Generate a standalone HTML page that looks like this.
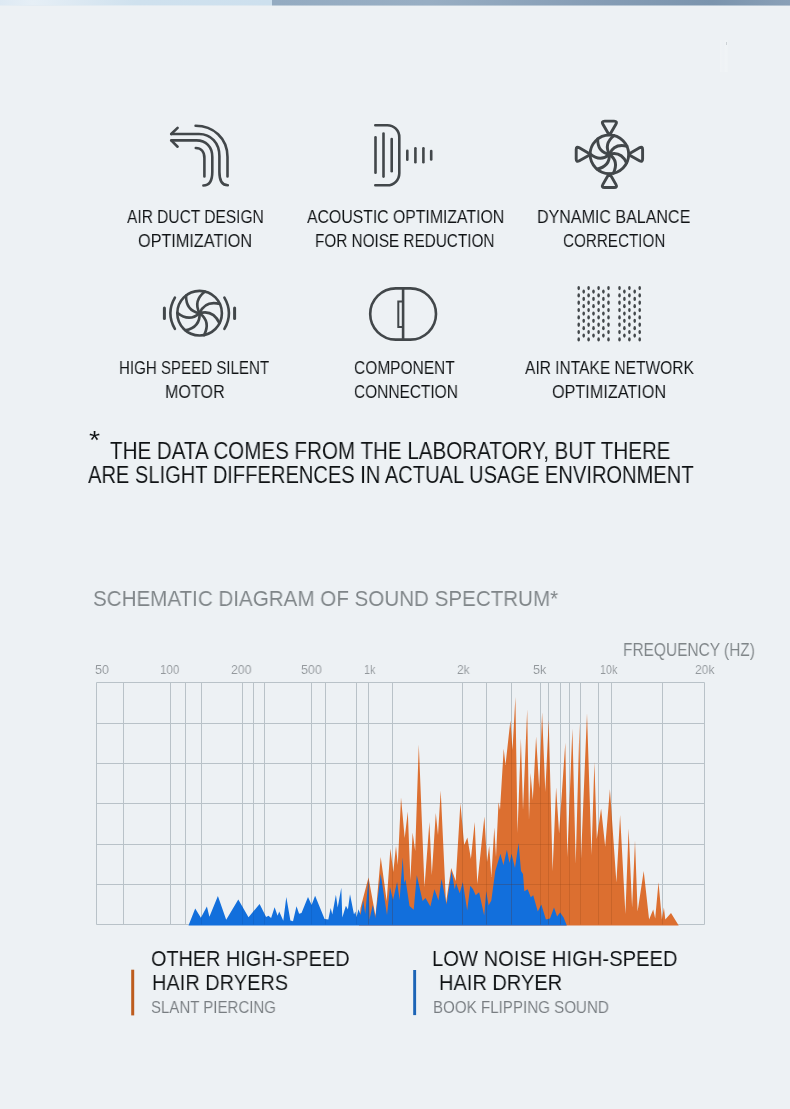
<!DOCTYPE html><html><head><meta charset="utf-8"><title>Sound spectrum</title><style>
html,body{margin:0;padding:0}
body{width:790px;height:1109px;position:relative;overflow:hidden;background:#edf1f4;font-family:"Liberation Sans",sans-serif}
.t{position:absolute;white-space:nowrap;transform-origin:0 0;margin:0;padding:0;will-change:transform;-webkit-text-stroke:0.05px #edf1f4}
svg{position:absolute;left:0;top:0}
</style></head><body>
<div style="position:absolute;left:0;top:0;width:272px;height:5px;background:linear-gradient(90deg,#dde9f3 0%,#e6eff6 12%,#dbe8f2 30%,#cfe1ee 50%,#cde0ee 100%)"></div>
<div style="position:absolute;left:0;top:5px;width:272px;height:1px;background:linear-gradient(90deg,#e5edf3 0%,#dde8f0 100%)"></div>
<div style="position:absolute;left:272px;top:0;width:518px;height:5px;background:linear-gradient(90deg,#94abc1 0%,#98aec3 30%,#869db5 62%,#7b94ad 85%,#8aa0b7 100%)"></div>
<div style="position:absolute;left:272px;top:5px;width:518px;height:1px;background:linear-gradient(90deg,#bfcdd9 0%,#b4c3d1 100%)"></div>
<div style="position:absolute;left:720px;top:40px;width:8px;height:32px;background:linear-gradient(90deg,rgba(255,255,255,.2),rgba(255,255,255,.05) 40%,rgba(255,255,255,.22) 75%,rgba(255,255,255,.1))"></div>
<div style="position:absolute;left:726px;top:42px;width:1px;height:3px;background:rgba(150,158,165,.4)"></div>

<svg width="790" height="420" viewBox="0 0 790 420" fill="none" stroke="#42474a" stroke-width="2.6" stroke-linecap="round" stroke-linejoin="round">
<!-- air duct -->
<g>
<path d="M195.6 125.8 C213 125.8 227.5 138 227.5 157 L227.5 176.5"/>
<path d="M171.6 134 L199 134 C211 134 219.4 143 219.4 156 L219.4 172 C219.4 181 222.5 185.3 227.8 185.3"/>
<path d="M171.6 140.4 L196.5 140.4 C206 140.4 212.3 147 212.3 157 L212.3 172 C212.3 181 209 185.5 203.4 185.5"/>
<path d="M195.8 148 C201 148 204.4 151.5 204.4 158 L204.4 176.5"/>
<path d="M177.6 127.9 L171.2 134"/>
<path d="M177.6 146.7 L171.2 140.4"/>
</g>
<!-- acoustic -->
<g>
<path d="M375.3 125.2 L387.3 125.2 C394 125.2 399.3 130.5 399.3 137.2 L399.3 173.3 C399.3 180 394 185.3 387.3 185.3 L375.3 185.3"/>
<g stroke-width="2.6">
<path d="M375.5 137.4 V172.8"/><path d="M383.5 133.6 V176.6"/><path d="M391.7 139.1 V171.2"/>
<path d="M407.3 150.8 V159.8"/><path d="M415.4 148.3 V162.3"/><path d="M423.4 148.3 V162.3"/><path d="M431.2 151 V159.4"/>
</g>
</g>
<!-- dynamic balance -->
<g id="dyn" stroke-width="2.9">
<circle cx="609.4" cy="154.3" r="19.3"/>
<path d="M602.90 124.22 Q601.10 121.10 604.70 121.10 L614.10 121.10 Q617.70 121.10 615.90 124.22 L610.50 133.59 Q609.40 135.50 608.30 133.59 Z"/>
<path d="M639.48 147.80 Q642.60 146.00 642.60 149.60 L642.60 159.00 Q642.60 162.60 639.48 160.80 L630.11 155.40 Q628.20 154.30 630.11 153.20 Z"/>
<path d="M615.90 184.38 Q617.70 187.50 614.10 187.50 L604.70 187.50 Q601.10 187.50 602.90 184.38 L608.30 175.01 Q609.40 173.10 610.50 175.01 Z"/>
<path d="M579.32 160.80 Q576.20 162.60 576.20 159.00 L576.20 149.60 Q576.20 146.00 579.32 147.80 L588.69 153.20 Q590.60 154.30 588.69 155.40 Z"/>
<g transform="translate(609.4 154.3)">
<path d="M0 0 Q-5.79 -10.62 4.67 -18.73"/>
<path d="M0 0 Q4.69 -11.15 17.55 -8.03"/>
<path d="M0 0 Q11.64 -3.28 17.22 8.72"/>
<path d="M0 0 Q9.82 7.05 3.92 18.90"/>
<path d="M0 0 Q0.61 12.08 -12.33 14.85"/>
<path d="M0 0 Q-9.06 8.01 -19.30 -0.38"/>
<path d="M0 0 Q-11.91 -2.09 -11.73 -15.33"/>
</g>
</g>
<!-- motor -->
<g id="mot">
<circle cx="199.6" cy="313.2" r="22.3"/>
<path d="M174.9 297.6 Q165.8 313.2 174.9 328.9"/>
<path d="M224.4 297.6 Q233.5 313.2 224.4 328.9"/>
<path d="M164.4 307.9 V318.5" stroke-width="3"/>
<path d="M234.6 307.9 V318.5" stroke-width="3"/>
<g transform="translate(199.6 313.2)">
<path d="M0 0 Q-6.69 -12.27 5.39 -21.64"/>
<path d="M0 0 Q5.42 -12.88 20.28 -9.27"/>
<path d="M0 0 Q13.45 -3.79 19.89 10.07"/>
<path d="M0 0 Q11.35 8.15 4.53 21.84"/>
<path d="M0 0 Q0.71 13.95 -14.25 17.15"/>
<path d="M0 0 Q-10.47 9.25 -22.30 -0.44"/>
<path d="M0 0 Q-13.76 -2.42 -13.55 -17.71"/>
</g>
</g>
<!-- component -->
<g>
<rect x="370.2" y="288.4" width="65.8" height="51.2" rx="25.6" ry="25.6"/>
<path d="M403.1 288.4 V339.6" stroke-linecap="butt"/>
<path d="M402.6 301.4 H398.3 V326.9 H402.6" stroke-width="2" stroke-linejoin="miter" stroke-linecap="butt"/>
</g>
<!-- intake dots -->
<g stroke="none" fill="#42474a">
<ellipse cx="578.7" cy="288.10" rx="1.3" ry="2.15"/>
<ellipse cx="578.7" cy="295.43" rx="1.3" ry="2.15"/>
<ellipse cx="578.7" cy="302.76" rx="1.3" ry="2.15"/>
<ellipse cx="578.7" cy="310.09" rx="1.3" ry="2.15"/>
<ellipse cx="578.7" cy="317.42" rx="1.3" ry="2.15"/>
<ellipse cx="578.7" cy="324.75" rx="1.3" ry="2.15"/>
<ellipse cx="578.7" cy="332.08" rx="1.3" ry="2.15"/>
<ellipse cx="578.7" cy="339.41" rx="1.3" ry="2.15"/>
<ellipse cx="583.7" cy="291.55" rx="1.3" ry="2.15"/>
<ellipse cx="583.7" cy="298.88" rx="1.3" ry="2.15"/>
<ellipse cx="583.7" cy="306.21" rx="1.3" ry="2.15"/>
<ellipse cx="583.7" cy="313.54" rx="1.3" ry="2.15"/>
<ellipse cx="583.7" cy="320.87" rx="1.3" ry="2.15"/>
<ellipse cx="583.7" cy="328.20" rx="1.3" ry="2.15"/>
<ellipse cx="583.7" cy="335.53" rx="1.3" ry="2.15"/>
<ellipse cx="588.6" cy="288.10" rx="1.3" ry="2.15"/>
<ellipse cx="588.6" cy="295.43" rx="1.3" ry="2.15"/>
<ellipse cx="588.6" cy="302.76" rx="1.3" ry="2.15"/>
<ellipse cx="588.6" cy="310.09" rx="1.3" ry="2.15"/>
<ellipse cx="588.6" cy="317.42" rx="1.3" ry="2.15"/>
<ellipse cx="588.6" cy="324.75" rx="1.3" ry="2.15"/>
<ellipse cx="588.6" cy="332.08" rx="1.3" ry="2.15"/>
<ellipse cx="588.6" cy="339.41" rx="1.3" ry="2.15"/>
<ellipse cx="593.5" cy="291.55" rx="1.3" ry="2.15"/>
<ellipse cx="593.5" cy="298.88" rx="1.3" ry="2.15"/>
<ellipse cx="593.5" cy="306.21" rx="1.3" ry="2.15"/>
<ellipse cx="593.5" cy="313.54" rx="1.3" ry="2.15"/>
<ellipse cx="593.5" cy="320.87" rx="1.3" ry="2.15"/>
<ellipse cx="593.5" cy="328.20" rx="1.3" ry="2.15"/>
<ellipse cx="593.5" cy="335.53" rx="1.3" ry="2.15"/>
<ellipse cx="598.6" cy="288.10" rx="1.3" ry="2.15"/>
<ellipse cx="598.6" cy="295.43" rx="1.3" ry="2.15"/>
<ellipse cx="598.6" cy="302.76" rx="1.3" ry="2.15"/>
<ellipse cx="598.6" cy="310.09" rx="1.3" ry="2.15"/>
<ellipse cx="598.6" cy="317.42" rx="1.3" ry="2.15"/>
<ellipse cx="598.6" cy="324.75" rx="1.3" ry="2.15"/>
<ellipse cx="598.6" cy="332.08" rx="1.3" ry="2.15"/>
<ellipse cx="598.6" cy="339.41" rx="1.3" ry="2.15"/>
<ellipse cx="603.4" cy="291.55" rx="1.3" ry="2.15"/>
<ellipse cx="603.4" cy="298.88" rx="1.3" ry="2.15"/>
<ellipse cx="603.4" cy="306.21" rx="1.3" ry="2.15"/>
<ellipse cx="603.4" cy="313.54" rx="1.3" ry="2.15"/>
<ellipse cx="603.4" cy="320.87" rx="1.3" ry="2.15"/>
<ellipse cx="603.4" cy="328.20" rx="1.3" ry="2.15"/>
<ellipse cx="603.4" cy="335.53" rx="1.3" ry="2.15"/>
<ellipse cx="608.5" cy="288.10" rx="1.3" ry="2.15"/>
<ellipse cx="608.5" cy="295.43" rx="1.3" ry="2.15"/>
<ellipse cx="608.5" cy="302.76" rx="1.3" ry="2.15"/>
<ellipse cx="608.5" cy="310.09" rx="1.3" ry="2.15"/>
<ellipse cx="608.5" cy="317.42" rx="1.3" ry="2.15"/>
<ellipse cx="608.5" cy="324.75" rx="1.3" ry="2.15"/>
<ellipse cx="608.5" cy="332.08" rx="1.3" ry="2.15"/>
<ellipse cx="608.5" cy="339.41" rx="1.3" ry="2.15"/>
<ellipse cx="619.5" cy="288.10" rx="1.3" ry="2.15"/>
<ellipse cx="619.5" cy="295.43" rx="1.3" ry="2.15"/>
<ellipse cx="619.5" cy="302.76" rx="1.3" ry="2.15"/>
<ellipse cx="619.5" cy="310.09" rx="1.3" ry="2.15"/>
<ellipse cx="619.5" cy="317.42" rx="1.3" ry="2.15"/>
<ellipse cx="619.5" cy="324.75" rx="1.3" ry="2.15"/>
<ellipse cx="619.5" cy="332.08" rx="1.3" ry="2.15"/>
<ellipse cx="619.5" cy="339.41" rx="1.3" ry="2.15"/>
<ellipse cx="624.4" cy="291.55" rx="1.3" ry="2.15"/>
<ellipse cx="624.4" cy="298.88" rx="1.3" ry="2.15"/>
<ellipse cx="624.4" cy="306.21" rx="1.3" ry="2.15"/>
<ellipse cx="624.4" cy="313.54" rx="1.3" ry="2.15"/>
<ellipse cx="624.4" cy="320.87" rx="1.3" ry="2.15"/>
<ellipse cx="624.4" cy="328.20" rx="1.3" ry="2.15"/>
<ellipse cx="624.4" cy="335.53" rx="1.3" ry="2.15"/>
<ellipse cx="629.4" cy="288.10" rx="1.3" ry="2.15"/>
<ellipse cx="629.4" cy="295.43" rx="1.3" ry="2.15"/>
<ellipse cx="629.4" cy="302.76" rx="1.3" ry="2.15"/>
<ellipse cx="629.4" cy="310.09" rx="1.3" ry="2.15"/>
<ellipse cx="629.4" cy="317.42" rx="1.3" ry="2.15"/>
<ellipse cx="629.4" cy="324.75" rx="1.3" ry="2.15"/>
<ellipse cx="629.4" cy="332.08" rx="1.3" ry="2.15"/>
<ellipse cx="629.4" cy="339.41" rx="1.3" ry="2.15"/>
<ellipse cx="634.7" cy="291.55" rx="1.3" ry="2.15"/>
<ellipse cx="634.7" cy="298.88" rx="1.3" ry="2.15"/>
<ellipse cx="634.7" cy="306.21" rx="1.3" ry="2.15"/>
<ellipse cx="634.7" cy="313.54" rx="1.3" ry="2.15"/>
<ellipse cx="634.7" cy="320.87" rx="1.3" ry="2.15"/>
<ellipse cx="634.7" cy="328.20" rx="1.3" ry="2.15"/>
<ellipse cx="634.7" cy="335.53" rx="1.3" ry="2.15"/>
<ellipse cx="639.7" cy="288.10" rx="1.3" ry="2.15"/>
<ellipse cx="639.7" cy="295.43" rx="1.3" ry="2.15"/>
<ellipse cx="639.7" cy="302.76" rx="1.3" ry="2.15"/>
<ellipse cx="639.7" cy="310.09" rx="1.3" ry="2.15"/>
<ellipse cx="639.7" cy="317.42" rx="1.3" ry="2.15"/>
<ellipse cx="639.7" cy="324.75" rx="1.3" ry="2.15"/>
<ellipse cx="639.7" cy="332.08" rx="1.3" ry="2.15"/>
<ellipse cx="639.7" cy="339.41" rx="1.3" ry="2.15"/>
</g>
</svg>

<svg width="790" height="1109" viewBox="0 0 790 1109">
<g stroke="#b9c2c8" stroke-width="1" fill="none" shape-rendering="auto">
<path d="M96.5 682.5 V924.5"/>
<path d="M123.5 682.5 V924.5"/>
<path d="M170.5 682.5 V924.5"/>
<path d="M185.5 682.5 V924.5"/>
<path d="M201.5 682.5 V924.5"/>
<path d="M242.5 682.5 V924.5"/>
<path d="M253.5 682.5 V924.5"/>
<path d="M264.5 682.5 V924.5"/>
<path d="M311.5 682.5 V924.5"/>
<path d="M325.5 682.5 V924.5"/>
<path d="M356.5 682.5 V924.5"/>
<path d="M368.5 682.5 V924.5"/>
<path d="M392.5 682.5 V924.5"/>
<path d="M462.5 682.5 V924.5"/>
<path d="M486.5 682.5 V924.5"/>
<path d="M511.5 682.5 V924.5"/>
<path d="M540.5 682.5 V924.5"/>
<path d="M548.5 682.5 V924.5"/>
<path d="M560.5 682.5 V924.5"/>
<path d="M569.5 682.5 V924.5"/>
<path d="M580.5 682.5 V924.5"/>
<path d="M598.5 682.5 V924.5"/>
<path d="M611.5 682.5 V924.5"/>
<path d="M662.5 682.5 V924.5"/>
<path d="M704.5 682.5 V924.5"/>
<path d="M96.5 682.5 H704.5"/>
<path d="M96.5 723.5 H704.5"/>
<path d="M96.5 763.5 H704.5"/>
<path d="M96.5 803.5 H704.5"/>
<path d="M96.5 844.5 H704.5"/>
<path d="M96.5 884.5 H704.5"/>
<path d="M96.5 924.5 H704.5"/>
</g>
<polygon fill="#dc6f30" points="359,925.6 360.5,908 368.5,877.5 375.5,916 380.7,857 386.7,901 390.4,848.5 393.3,872 396,846 397.8,865 401,797.5 404.7,838 407.8,811.5 410.4,880 412.6,832.5 415.2,851 418.8,744.5 424.5,887 429.4,822 431.8,875 435.8,813 438,835 440.7,790.5 446,903 451.2,868 455.7,881 460.4,803.3 464.2,845 467.4,837.5 470.9,859 474.7,822 477.3,884 484.4,816.5 487,862 489.2,845.7 491.3,877 494.3,827.5 496,857 498.5,802.3 500,810 503.7,748.7 505.5,765 510.4,720.4 512.5,750 515.4,697 517.5,833 520.9,738.6 523,810 527.2,709.2 529,820 530.6,773 532.8,800 536.1,736.6 539.2,788 542.1,712.3 545.3,792 548.7,720.4 552.6,871 556.1,787.2 559.1,833.5 565.3,742.7 567.3,857 572.4,728.5 575.7,864 579.5,723.4 581,859 587,713.3 591.5,855 594.4,762 596.8,839 601.1,808.5 605.2,846.7 609.9,789.2 616.4,882.5 620.1,815 625.4,914 628.6,828.5 632.1,907.5 635,840.6 637.6,911.5 643.7,871 649.1,919.6 653.2,909.5 655.2,918.6 658.5,882.2 661.9,919.6 663.9,907.5 665.3,919.6 671,913 678.7,925.6"/>
<polygon fill="#126fdc" points="188.5,925.6 195.2,908.6 200.9,917.7 206.9,906.6 209.4,916.7 217.9,896.1 226.2,919.7 238.3,899.5 248.5,917.3 259.6,904 266.1,917.1 268.5,915.7 271.1,918.1 274.6,907.2 277.6,915.7 279.2,911.6 283.3,920.8 286.3,896.9 290.4,920.4 293,921.2 296.5,906.2 299.1,913.7 301.5,913.1 308,897.1 311.6,905 315.1,895.8 324.6,918.9 328.3,919.4 330.7,908 332.3,914.4 335.9,894.7 337.7,907.5 341.3,887.8 342.3,917.6 345.9,905.8 347.9,909.5 350,894.3 354,914.6 355.4,911.5 356.5,917.2 358.5,909.3 360.6,915 363.2,900 365.2,914 368.5,879 369.5,919 372.8,905 375.3,918 380.7,874 387,915 390,887 393,900 397.1,882 399.6,900 402.7,857.5 404.2,882.7 405.5,879.6 409.5,906 413.7,909.7 416.8,875.3 422.6,901 425.5,898 430.4,906.5 434.4,889.2 438.5,900.4 441.5,879.1 446.6,904.4 451.6,871 454.7,889.2 456.1,883.2 459.7,893.3 462.8,882.2 467.2,910.5 470.3,885.7 473,889.2 475.7,895.3 479.1,892.3 484.2,915.6 486.2,891.3 488.6,905.4 491.3,900.4 495.3,871 500.4,853.8 503.4,864.9 506.9,849.7 509.5,862.9 511.5,853.8 515,868 518.6,843.1 521,871 523,874 524.3,891.3 527.7,889.2 530.8,897.3 533.2,895.3 537.8,911.5 541.3,904.4 545.9,919.6 550,918.6 554,907.5 557.1,916.6 560.1,912.5 563.6,917.6 566.8,925.6"/>
<clipPath id="cpo"><polygon points="359,925.6 360.5,908 368.5,877.5 375.5,916 380.7,857 386.7,901 390.4,848.5 393.3,872 396,846 397.8,865 401,797.5 404.7,838 407.8,811.5 410.4,880 412.6,832.5 415.2,851 418.8,744.5 424.5,887 429.4,822 431.8,875 435.8,813 438,835 440.7,790.5 446,903 451.2,868 455.7,881 460.4,803.3 464.2,845 467.4,837.5 470.9,859 474.7,822 477.3,884 484.4,816.5 487,862 489.2,845.7 491.3,877 494.3,827.5 496,857 498.5,802.3 500,810 503.7,748.7 505.5,765 510.4,720.4 512.5,750 515.4,697 517.5,833 520.9,738.6 523,810 527.2,709.2 529,820 530.6,773 532.8,800 536.1,736.6 539.2,788 542.1,712.3 545.3,792 548.7,720.4 552.6,871 556.1,787.2 559.1,833.5 565.3,742.7 567.3,857 572.4,728.5 575.7,864 579.5,723.4 581,859 587,713.3 591.5,855 594.4,762 596.8,839 601.1,808.5 605.2,846.7 609.9,789.2 616.4,882.5 620.1,815 625.4,914 628.6,828.5 632.1,907.5 635,840.6 637.6,911.5 643.7,871 649.1,919.6 653.2,909.5 655.2,918.6 658.5,882.2 661.9,919.6 663.9,907.5 665.3,919.6 671,913 678.7,925.6"/></clipPath><clipPath id="cpb"><polygon points="188.5,925.6 195.2,908.6 200.9,917.7 206.9,906.6 209.4,916.7 217.9,896.1 226.2,919.7 238.3,899.5 248.5,917.3 259.6,904 266.1,917.1 268.5,915.7 271.1,918.1 274.6,907.2 277.6,915.7 279.2,911.6 283.3,920.8 286.3,896.9 290.4,920.4 293,921.2 296.5,906.2 299.1,913.7 301.5,913.1 308,897.1 311.6,905 315.1,895.8 324.6,918.9 328.3,919.4 330.7,908 332.3,914.4 335.9,894.7 337.7,907.5 341.3,887.8 342.3,917.6 345.9,905.8 347.9,909.5 350,894.3 354,914.6 355.4,911.5 356.5,917.2 358.5,909.3 360.6,915 363.2,900 365.2,914 368.5,879 369.5,919 372.8,905 375.3,918 380.7,874 387,915 390,887 393,900 397.1,882 399.6,900 402.7,857.5 404.2,882.7 405.5,879.6 409.5,906 413.7,909.7 416.8,875.3 422.6,901 425.5,898 430.4,906.5 434.4,889.2 438.5,900.4 441.5,879.1 446.6,904.4 451.6,871 454.7,889.2 456.1,883.2 459.7,893.3 462.8,882.2 467.2,910.5 470.3,885.7 473,889.2 475.7,895.3 479.1,892.3 484.2,915.6 486.2,891.3 488.6,905.4 491.3,900.4 495.3,871 500.4,853.8 503.4,864.9 506.9,849.7 509.5,862.9 511.5,853.8 515,868 518.6,843.1 521,871 523,874 524.3,891.3 527.7,889.2 530.8,897.3 533.2,895.3 537.8,911.5 541.3,904.4 545.9,919.6 550,918.6 554,907.5 557.1,916.6 560.1,912.5 563.6,917.6 566.8,925.6"/></clipPath>
<g clip-path="url(#cpo)" stroke="#8a3f12" stroke-opacity="0.22" stroke-width="1" fill="none">
<path d="M96.5 682.5 V924.5"/>
<path d="M123.5 682.5 V924.5"/>
<path d="M170.5 682.5 V924.5"/>
<path d="M185.5 682.5 V924.5"/>
<path d="M201.5 682.5 V924.5"/>
<path d="M242.5 682.5 V924.5"/>
<path d="M253.5 682.5 V924.5"/>
<path d="M264.5 682.5 V924.5"/>
<path d="M311.5 682.5 V924.5"/>
<path d="M325.5 682.5 V924.5"/>
<path d="M356.5 682.5 V924.5"/>
<path d="M368.5 682.5 V924.5"/>
<path d="M392.5 682.5 V924.5"/>
<path d="M462.5 682.5 V924.5"/>
<path d="M486.5 682.5 V924.5"/>
<path d="M511.5 682.5 V924.5"/>
<path d="M540.5 682.5 V924.5"/>
<path d="M548.5 682.5 V924.5"/>
<path d="M560.5 682.5 V924.5"/>
<path d="M569.5 682.5 V924.5"/>
<path d="M580.5 682.5 V924.5"/>
<path d="M598.5 682.5 V924.5"/>
<path d="M611.5 682.5 V924.5"/>
<path d="M662.5 682.5 V924.5"/>
<path d="M704.5 682.5 V924.5"/>
<path d="M96.5 682.5 H704.5"/>
<path d="M96.5 723.5 H704.5"/>
<path d="M96.5 763.5 H704.5"/>
<path d="M96.5 803.5 H704.5"/>
<path d="M96.5 844.5 H704.5"/>
<path d="M96.5 884.5 H704.5"/>
</g>
<g clip-path="url(#cpb)" stroke="#0a3f8a" stroke-opacity="0.18" stroke-width="1" fill="none">
<path d="M96.5 682.5 V924.5"/>
<path d="M123.5 682.5 V924.5"/>
<path d="M170.5 682.5 V924.5"/>
<path d="M185.5 682.5 V924.5"/>
<path d="M201.5 682.5 V924.5"/>
<path d="M242.5 682.5 V924.5"/>
<path d="M253.5 682.5 V924.5"/>
<path d="M264.5 682.5 V924.5"/>
<path d="M311.5 682.5 V924.5"/>
<path d="M325.5 682.5 V924.5"/>
<path d="M356.5 682.5 V924.5"/>
<path d="M368.5 682.5 V924.5"/>
<path d="M392.5 682.5 V924.5"/>
<path d="M462.5 682.5 V924.5"/>
<path d="M486.5 682.5 V924.5"/>
<path d="M511.5 682.5 V924.5"/>
<path d="M540.5 682.5 V924.5"/>
<path d="M548.5 682.5 V924.5"/>
<path d="M560.5 682.5 V924.5"/>
<path d="M569.5 682.5 V924.5"/>
<path d="M580.5 682.5 V924.5"/>
<path d="M598.5 682.5 V924.5"/>
<path d="M611.5 682.5 V924.5"/>
<path d="M662.5 682.5 V924.5"/>
<path d="M704.5 682.5 V924.5"/>
<path d="M96.5 682.5 H704.5"/>
<path d="M96.5 723.5 H704.5"/>
<path d="M96.5 763.5 H704.5"/>
<path d="M96.5 803.5 H704.5"/>
<path d="M96.5 844.5 H704.5"/>
<path d="M96.5 884.5 H704.5"/>
</g>
<rect x="131.2" y="969.7" width="3" height="45.7" fill="#bd5c1e"/>
<rect x="413.2" y="970" width="2.9" height="45.1" fill="#1c64b6"/>
</svg>
<div id="t1a" class="t" style="left:126.85px;top:208.41px;font-size:18.41px;line-height:18.41px;color:#0f1214;transform:scaleX(0.8426)">AIR DUCT DESIGN</div>
<div id="t1b" class="t" style="left:138.24px;top:231.73px;font-size:18.55px;line-height:18.55px;color:#0f1214;transform:scaleX(0.8750)">OPTIMIZATION</div>
<div id="t2a" class="t" style="left:306.54px;top:208.41px;font-size:18.41px;line-height:18.41px;color:#0f1214;transform:scaleX(0.8580)">ACOUSTIC OPTIMIZATION</div>
<div id="t2b" class="t" style="left:314.89px;top:231.73px;font-size:18.55px;line-height:18.55px;color:#0f1214;transform:scaleX(0.8261)">FOR NOISE REDUCTION</div>
<div id="t3a" class="t" style="left:537.31px;top:208.41px;font-size:18.41px;line-height:18.41px;color:#0f1214;transform:scaleX(0.8715)">DYNAMIC BALANCE</div>
<div id="t3b" class="t" style="left:563.08px;top:231.73px;font-size:18.55px;line-height:18.55px;color:#0f1214;transform:scaleX(0.8215)">CORRECTION</div>
<div id="t4a" class="t" style="left:119.33px;top:358.98px;font-size:18.26px;line-height:18.26px;color:#0f1214;transform:scaleX(0.8267)">HIGH SPEED SILENT</div>
<div id="t4b" class="t" style="left:165.07px;top:382.61px;font-size:18.41px;line-height:18.41px;color:#0f1214;transform:scaleX(0.8746)">MOTOR</div>
<div id="t5a" class="t" style="left:354.25px;top:358.98px;font-size:18.26px;line-height:18.26px;color:#0f1214;transform:scaleX(0.8493)">COMPONENT</div>
<div id="t5b" class="t" style="left:354.00px;top:382.61px;font-size:18.41px;line-height:18.41px;color:#0f1214;transform:scaleX(0.8396)">CONNECTION</div>
<div id="t6a" class="t" style="left:524.80px;top:358.98px;font-size:18.26px;line-height:18.26px;color:#0f1214;transform:scaleX(0.8513)">AIR INTAKE NETWORK</div>
<div id="t6b" class="t" style="left:551.65px;top:382.61px;font-size:18.41px;line-height:18.41px;color:#0f1214;transform:scaleX(0.8805)">OPTIMIZATION</div>
<div id="n1" class="t" style="left:109.83px;top:440.19px;font-size:23.19px;line-height:23.19px;color:#0f1214;transform:scaleX(0.8878)">THE DATA COMES FROM THE LABORATORY, BUT THERE</div>
<div id="n2" class="t" style="left:87.67px;top:463.84px;font-size:23.48px;line-height:23.48px;color:#0f1214;transform:scaleX(0.8568)">ARE SLIGHT DIFFERENCES IN ACTUAL USAGE ENVIRONMENT</div>
<div id="h1" class="t" style="left:92.92px;top:588.28px;font-size:22.61px;line-height:22.61px;color:#7f8588;transform:scaleX(0.9106)">SCHEMATIC DIAGRAM OF SOUND SPECTRUM*</div>
<div id="fq" class="t" style="left:622.95px;top:640.68px;font-size:18.26px;line-height:18.26px;color:#7f8588;transform:scaleX(0.8466)">FREQUENCY (HZ)</div>
<div id="l1a" class="t" style="left:151.24px;top:946.74px;font-size:22.90px;line-height:22.90px;color:#0f1214;transform:scaleX(0.8673)">OTHER HIGH-SPEED</div>
<div id="l1b" class="t" style="left:151.66px;top:970.94px;font-size:22.90px;line-height:22.90px;color:#0f1214;transform:scaleX(0.8724)">HAIR DRYERS</div>
<div id="l1c" class="t" style="left:151.19px;top:1000.28px;font-size:16.67px;line-height:16.67px;color:#787d81;transform:scaleX(0.9017)">SLANT PIERCING</div>
<div id="l2a" class="t" style="left:432.42px;top:946.74px;font-size:22.90px;line-height:22.90px;color:#0f1214;transform:scaleX(0.8815)">LOW NOISE HIGH-SPEED</div>
<div id="l2b" class="t" style="left:438.67px;top:970.94px;font-size:22.90px;line-height:22.90px;color:#0f1214;transform:scaleX(0.8745)">HAIR DRYER</div>
<div id="l2c" class="t" style="left:432.91px;top:1000.28px;font-size:16.67px;line-height:16.67px;color:#787d81;transform:scaleX(0.9086)">BOOK FLIPPING SOUND</div>
<div id="ast" class="t" style="left:88.63px;top:428.32px;font-size:25.51px;line-height:25.51px;color:#0f1214;transform:scaleX(1.1181)">*</div>
<div id="ax0" class="t" style="left:94.89px;top:664.26px;font-size:12.75px;line-height:12.75px;color:#93989c;transform:scaleX(0.9891)">50</div>
<div id="ax1" class="t" style="left:159.82px;top:664.26px;font-size:12.75px;line-height:12.75px;color:#93989c;transform:scaleX(0.9086)">100</div>
<div id="ax2" class="t" style="left:230.81px;top:664.26px;font-size:12.75px;line-height:12.75px;color:#93989c;transform:scaleX(0.9632)">200</div>
<div id="ax3" class="t" style="left:300.62px;top:664.26px;font-size:12.75px;line-height:12.75px;color:#93989c;transform:scaleX(0.9751)">500</div>
<div id="ax4" class="t" style="left:363.69px;top:664.26px;font-size:12.75px;line-height:12.75px;color:#93989c;transform:scaleX(0.8560)">1k</div>
<div id="ax5" class="t" style="left:456.83px;top:664.26px;font-size:12.75px;line-height:12.75px;color:#93989c;transform:scaleX(0.9398)">2k</div>
<div id="ax6" class="t" style="left:532.60px;top:664.26px;font-size:12.75px;line-height:12.75px;color:#93989c;transform:scaleX(0.9898)">5k</div>
<div id="ax7" class="t" style="left:600.07px;top:664.26px;font-size:12.75px;line-height:12.75px;color:#93989c;transform:scaleX(0.8453)">10k</div>
<div id="ax8" class="t" style="left:695.15px;top:664.26px;font-size:12.75px;line-height:12.75px;color:#93989c;transform:scaleX(0.9477)">20k</div>
</body></html>
